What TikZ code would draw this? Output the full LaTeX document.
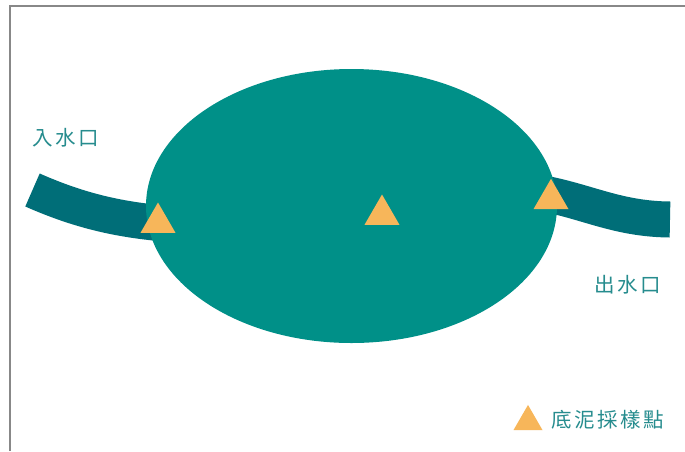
\documentclass[tikz,border=0pt]{standalone}
\usepackage{fontspec}
\newfontfamily\cjk[LetterSpace=12]{Noto Sans CJK TC}
\usetikzlibrary{shapes.geometric}
\definecolor{pondcol}{RGB}{0,144,136}
\definecolor{pipecol}{RGB}{0,110,120}
\definecolor{markcol}{RGB}{247,182,90}
\definecolor{textcol}{RGB}{38,140,142}
\definecolor{framecol}{RGB}{136,136,136}
\tikzset{
  pipe/.style={draw=pipecol, line width=36pt, line cap=butt},
  sample/.style={regular polygon, regular polygon sides=3, fill=markcol, draw=none, inner sep=0pt, outer sep=0pt, minimum size=#1},
  sample/.default=40.4pt,
  lbl/.style={font=\cjk\fontsize{20.5}{24}\selectfont, text=textcol, inner sep=0pt, anchor=west}
}
\begin{document}
\begin{tikzpicture}[x=1pt, y=-1pt]
\useasboundingbox (0,0) rectangle (685,451);
\fill[white] (0,0) rectangle (685,451);
% frame
\draw[framecol, line width=2pt] (10,451) -- (10,6) -- (685,6);
% pipes
\coordinate (inA) at (32.5,190);
\coordinate (inB) at (170,224);
\coordinate (outA) at (535,192);
\coordinate (outB) at (670,219.5);
\draw[pipe] (inA) .. controls (80,211) and (120,220) .. (inB);
\draw[pipe] (outA) .. controls (585,200) and (615,219) .. (outB);
% pond
\node[ellipse, fill=pondcol, minimum width=411pt, minimum height=274pt, inner sep=0pt] (pond) at (351.5,206) {};
% sample points
\node[sample] (s1) at (158,222.7) {};
\node[sample] (s2) at (382,214.7) {};
\node[sample] (s3) at (551,199) {};
% labels
\node[lbl] (inlet) at (32,138) {入水口};
\node[lbl] (outlet) at (594,285) {出水口};
\node[sample=33.5pt] (legmark) at (528,421.7) {};
\node[lbl] (legtext) at (551,420) {底泥採樣點};
\end{tikzpicture}
\end{document}
